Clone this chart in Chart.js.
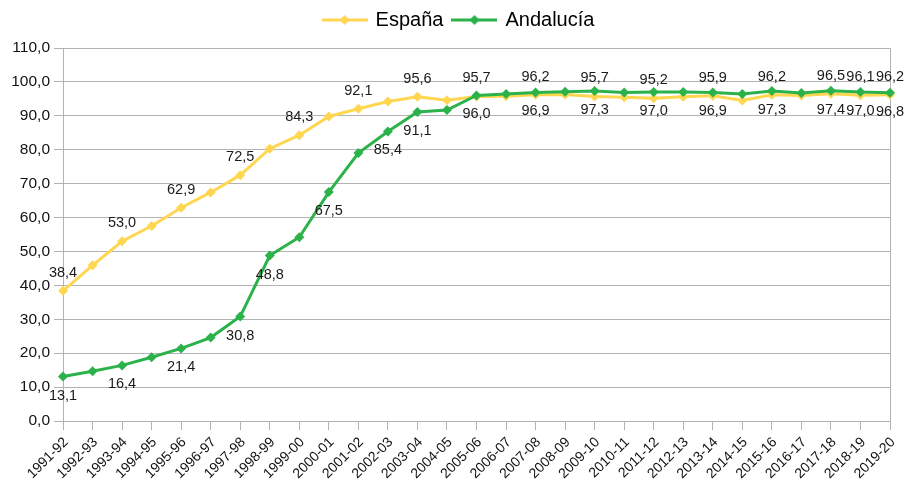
<!DOCTYPE html>
<html lang="es">
<head>
    <meta charset="UTF-8">
    <script src="https://cdn.jsdelivr.net/npm/chart.js"></script>
    <style>
        body { margin: 0; background: #fff; }
        .chart-container { width: 908px; height: 484px; }
    </style>
</head>
<body>
    <div class="chart-container">
        <canvas id="tasaChart"></canvas>
    </div>
    <script>
        const cursos = ['1991-92', '1992-93', '1993-94', '1994-95', '1995-96', '1996-97', '1997-98', '1998-99',
            '1999-00', '2000-01', '2001-02', '2002-03', '2003-04', '2004-05', '2005-06', '2006-07', '2007-08',
            '2008-09', '2009-10', '2010-11', '2011-12', '2012-13', '2013-14', '2014-15', '2015-16', '2016-17',
            '2017-18', '2018-19', '2019-20'];

        const espana = [38.4, 45.9, 53.0, 57.5, 62.9, 67.4, 72.5, 80.3, 84.3, 89.8, 92.1, 94.2, 95.6, 94.6, 95.7,
            95.8, 96.2, 96.3, 95.7, 95.5, 95.2, 95.6, 95.9, 94.5, 96.2, 96.0, 96.5, 96.1, 96.2];
        const andalucia = [13.1, 14.7, 16.4, 18.8, 21.4, 24.6, 30.8, 48.8, 54.2, 67.5, 79.0, 85.4, 91.1, 91.7, 96.0,
            96.4, 96.9, 97.1, 97.3, 96.9, 97.0, 97.0, 96.9, 96.4, 97.3, 96.7, 97.4, 97.0, 96.8];

        // points that carry a value label in the original
        const espanaEtiquetas = [0, 2, 4, 6, 8, 10, 12, 14, 16, 18, 20, 22, 24, 26, 27, 28];
        const andaluciaEtiquetas = [0, 2, 4, 6, 7, 9, 11, 12, 14, 16, 18, 20, 22, 24, 26, 27, 28];

        const AMARILLO = '#ffd650';
        const VERDE = '#2bb24a';
        const GRIS = '#b3b3b3';
        const FUENTE = "'Liberation Sans', Arial, sans-serif";

        const coma = v => v.toFixed(1).replace('.', ',');

        // legend symbol: short line with a diamond in the middle
        function simbolo(color) {
            const c = document.createElement('canvas');
            c.width = 46; c.height = 12;
            const g = c.getContext('2d');
            g.strokeStyle = color;
            g.lineWidth = 3;
            g.beginPath(); g.moveTo(0, 6); g.lineTo(46, 6); g.stroke();
            g.fillStyle = color;
            g.beginPath(); g.moveTo(23, 1); g.lineTo(28, 6); g.lineTo(23, 11); g.lineTo(18, 6); g.closePath(); g.fill();
            return c;
        }

        const etiquetasPlugin = {
            id: 'etiquetas',
            afterDatasetsDraw(chart) {
                const ctx = chart.ctx;
                ctx.save();
                ctx.font = '14.5px ' + FUENTE;
                ctx.fillStyle = '#1a1a1a';
                ctx.textAlign = 'center';
                ctx.textBaseline = 'middle';
                const grupos = [[0, espanaEtiquetas, -18], [1, andaluciaEtiquetas, 19]];
                grupos.forEach(([ds, idx, dy]) => {
                    const meta = chart.getDatasetMeta(ds);
                    const valores = chart.data.datasets[ds].data;
                    idx.forEach(i => {
                        const p = meta.data[i];
                        ctx.fillText(coma(valores[i]), p.x, p.y + dy);
                    });
                });
                ctx.restore();
            }
        };

        // taller legend box, and legend nudged right like the original
        const leyendaAjuste = {
            id: 'leyendaAjuste',
            beforeInit(chart) {
                const fitOriginal = chart.legend.fit;
                chart.legend.fit = function () {
                    fitOriginal.call(this);
                    this.height += 8;
                };
            },
            afterLayout(chart) {
                chart.legend.left += 28;
            }
        };

        const ctx = document.getElementById('tasaChart').getContext('2d');
        new Chart(ctx, {
            type: 'line',
            data: {
                labels: cursos,
                datasets: [{
                    label: 'España',
                    data: espana,
                    borderColor: AMARILLO,
                    backgroundColor: AMARILLO,
                    borderWidth: 3,
                    pointStyle: 'rectRot',
                    pointRadius: 5,
                    pointBorderWidth: 0,
                    tension: 0,
                    order: 1
                }, {
                    label: 'Andalucía',
                    data: andalucia,
                    borderColor: VERDE,
                    backgroundColor: VERDE,
                    borderWidth: 3,
                    pointStyle: 'rectRot',
                    pointRadius: 5,
                    pointBorderWidth: 0,
                    tension: 0,
                    order: 0
                }]
            },
            options: {
                responsive: true,
                maintainAspectRatio: false,
                animation: false,
                layout: { padding: { left: 0, right: 18, top: 0, bottom: 0 } },
                plugins: {
                    tooltip: { enabled: false },
                    legend: {
                        position: 'top',
                        labels: {
                            usePointStyle: true,
                            pointStyleWidth: 42,
                            padding: 10,
                            color: '#111',
                            font: { family: FUENTE, size: 20 },
                            sort: (a, b) => a.datasetIndex - b.datasetIndex,
                            generateLabels(chart) {
                                return chart.data.datasets.map((d, i) => ({
                                    text: d.label,
                                    datasetIndex: i,
                                    pointStyle: simbolo(d.borderColor),
                                    fillStyle: d.borderColor,
                                    strokeStyle: d.borderColor,
                                    lineWidth: 0,
                                    hidden: false
                                }));
                            }
                        }
                    }
                },
                scales: {
                    x: {
                        offset: false,
                        afterFit(scale) { scale.height = 63; },
                        grid: {
                            drawOnChartArea: true,
                            color: c => (c.index === cursos.length - 1 ? GRIS : 'rgba(0,0,0,0)'),
                            tickColor: GRIS,
                            tickLength: 9
                        },
                        border: { color: GRIS },
                        ticks: {
                            autoSkip: false,
                            minRotation: 45,
                            maxRotation: 45,
                            padding: 4,
                            labelOffset: 3,
                            color: '#111',
                            font: { family: FUENTE, size: 14 }
                        }
                    },
                    y: {
                        min: 0,
                        max: 110,
                        afterFit(scale) { scale.width = 63; },
                        grid: { color: GRIS, tickColor: GRIS, tickLength: 9 },
                        border: { color: GRIS },
                        ticks: {
                            stepSize: 10,
                            padding: 4,
                            color: '#111',
                            font: { family: FUENTE, size: 15.5 },
                            callback: v => coma(v)
                        }
                    }
                }
            },
            plugins: [etiquetasPlugin, leyendaAjuste]
        });
    </script>
</body>
</html>
